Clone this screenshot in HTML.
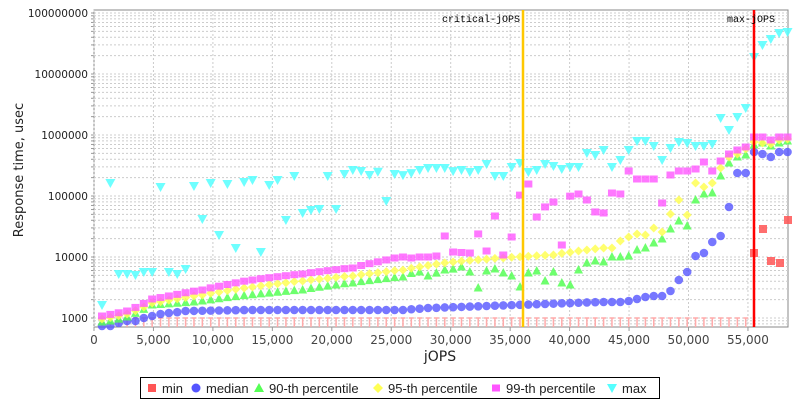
<!DOCTYPE html>
<html><head><meta charset="utf-8"><style>
body{margin:0;background:#fff;}
svg{display:block;font-family:"Liberation Sans",sans-serif;}
</style></head><body>
<svg id="s" width="800" height="400" xmlns="http://www.w3.org/2000/svg"></svg>
<script>
const s=document.getElementById('s');
let h='';
const L=94,R=788,T=10,B=327;
const X=v=>94+v*0.01189;
const Y=v=>318-61*(Math.log10(v)-3);
h+=`<rect x="${L}" y="${T}" width="${R-L}" height="${B-T}" fill="#fff" stroke="#888"/>`;
for(let d=3;d<=8;d++){for(let m=1;m<=9;m++){const v=m*Math.pow(10,d);const y=Y(v);if(y<T||y>B)continue;
h+=`<line x1="${L}" x2="${R}" y1="${y}" y2="${y}" stroke="#ccc" stroke-dasharray="2,2" stroke-width="1"/>`;
h+=`<line x1="${L-3}" x2="${L}" y1="${y}" y2="${y}" stroke="#999"/>`;}}
for(let m=7;m<=9;m++){const y=Y(m*100);if(y<=B)h+=`<line x1="${L}" x2="${R}" y1="${y}" y2="${y}" stroke="#ccc" stroke-dasharray="2,2"/>`;}
const labs=['1000','10000','100000','1000000','10000000','100000000'];
labs.forEach((t,i)=>{h+=`<text x="${L-6}" y="${Y(Math.pow(10,i+3))+4}" font-size="10.5" font-family="DejaVu Sans,sans-serif" text-anchor="end" fill="#222">${t}</text>`;});
for(let k=0;k<=55000;k+=5000){const x=X(k);
h+=`<line x1="${x}" x2="${x}" y1="${T}" y2="${B}" stroke="#ccc" stroke-dasharray="2,2"/>`;
h+=`<line x1="${x}" x2="${x}" y1="${B}" y2="${B+4}" stroke="#999"/>`;
h+=`<text x="${x}" y="${B+17}" font-size="12" font-family="DejaVu Sans,sans-serif" text-anchor="middle" fill="#444">${k.toLocaleString('en-US')}</text>`;}
h+=`<text x="440" y="361" font-size="14" font-family="DejaVu Sans,sans-serif" text-anchor="middle" fill="#222">jOPS</text>`;
h+=`<text transform="translate(23,170) rotate(-90)" font-size="13" font-family="DejaVu Sans,sans-serif" text-anchor="middle" fill="#222">Response time, usec</text>`;
const xs=[];for(let i=0;i<83;i++)xs.push(102+8.36*i);
function interp(a,x){if(x<=a[0][0])return a[0][1];for(let i=1;i<a.length;i++){if(x<=a[i][0]){const[x0,y0]=a[i-1],[x1,y1]=a[i];return y0+(y1-y0)*(x-x0)/(x1-x0);}}return a[a.length-1][1];}
const P=a=>{const o=[];for(let i=0;i<a.length;i+=2)o.push([a[i],a[i+1]]);return o;};
const med=P([102,326,111,326,119,323,128,321,136,321,144,318,153,316,162,314,170,313,187,311,250,310,400,310,430,308,600,302,610,302,618,302,627,301,635,299,643,297,652,296,660,296,668,291,677,280,686,272,694,256,703,253,712,242,720,236,728,207,737,173,745,173,754,152,763,154,771,157,779,152,788,152]);
const p90=P([102,322,111,321,128,317,153,305,195,302,240,296,300,290,350,283,400,277,407,275,416,272,424,275,432,276,441,270,449,271,458,267,466,272,475,288,483,271,492,269,500,273,508,276,517,287,526,273,534,271,542,281,551,272,559,283,568,285,576,270,584,263,593,261,601,262,610,257,618,257,627,256,635,250,643,248,652,243,660,239,668,229,677,221,686,226,694,200,703,194,712,193,720,176,728,163,737,157,745,155,754,145,763,143,771,146,779,143,788,141]);
const p95=P([102,319,128,314,153,303,200,295,250,287,300,281,350,276,400,270,450,262,500,258,550,255,580,251,602,248,610,248,618,241,627,237,635,234,643,235,652,228,660,232,668,214,677,200,686,215,694,183,703,187,712,183,720,168,728,157,737,154,745,149,754,142,763,143,771,144,779,140,788,139]);
const p99=P([102,316,128,311,153,299,200,290,250,280,300,274,350,268,395,258,403,257,412,258,420,257,428,257,436,256,441,236,449,254,457,252,466,253,474,219,483,251,491,216,500,255,508,237,516,204,525,184,533,217,541,211,550,202,558,245,566,198,575,194,583,200,591,211,600,213,608,193,618,194,627,171,635,179,644,179,653,179,661,203,670,175,678,171,686,171,694,169,703,162,712,171,720,161,729,154,737,150,746,147,754,137,763,137,771,140,780,137,788,137]);
const mx=P([102,305,111,183,119,274,128,274,136,275,144,272,153,272,162,187,170,272,178,274,187,269,195,186,203,219,212,183,221,235,229,184,238,248,246,182,254,180,263,252,272,185,280,180,288,220,297,176,305,213,314,210,322,209,331,176,339,209,348,174,356,170,364,171,373,175,382,169,390,201,398,174,407,176,416,170,424,201,432,168,441,168,449,172,458,170,466,172,475,170,483,164,492,176,500,176,508,167,517,163,526,172,534,170,542,164,551,166,559,169,568,167,576,167,584,153,593,155,602,150,610,167,618,160,627,150,635,141,643,141,652,146,660,160,668,148,677,142,686,143,694,146,703,146,711,144,720,118,728,130,737,117,745,108,754,57,763,45,771,39,779,33,788,32]);
xs.forEach(x=>{if(x<750)h+=`<path d="M${x} ${B} V318 M${x-2.5} 318 H${x+2.5}" stroke="#ffaaaa" stroke-width="1.5" fill="none"/>`;});
[[754,253],[763,229],[771,261],[780,263],[788,220]].forEach(([x,y])=>{h+=`<rect x="${x-4}" y="${y-4}" width="8" height="8" fill="#f55" opacity="0.85"/>`;});
const pick=(a,x)=>{let b=a[0];a.forEach(p=>{if(Math.abs(p[0]-x)<Math.abs(b[0]-x))b=p;});return Math.abs(b[0]-x)<4?b[1]:interp(a,x);};
xs.forEach(x=>{const y=pick(med,x);h+=`<circle cx="${x}" cy="${y}" r="4.3" fill="#5555ff" opacity="0.8"/>`;});
xs.forEach(x=>{const y=pick(p90,x);h+=`<path d="M${x} ${y-5} L${x+4.5} ${y+3.5} L${x-4.5} ${y+3.5}Z" fill="#55ff55" opacity="0.85"/>`;});
xs.forEach(x=>{const y=pick(p95,x);h+=`<path d="M${x} ${y-4.5} L${x+4.5} ${y} L${x} ${y+4.5} L${x-4.5} ${y}Z" fill="#ffff55" opacity="0.85"/>`;});
xs.forEach(x=>{const y=pick(p99,x);h+=`<rect x="${x-4}" y="${y-3.5}" width="8" height="7" fill="#ff55ff" opacity="0.8"/>`;});
xs.forEach(x=>{const y=pick(mx,x);h+=`<path d="M${x-5} ${y-4} L${x+5} ${y-4} L${x} ${y+5}Z" fill="#55ffff" opacity="0.85"/>`;});
h+=`<line x1="523" x2="523" y1="${T}" y2="${B}" stroke="#ffc800" stroke-width="2.5"/>`;
h+=`<line x1="754" x2="754" y1="${T}" y2="${B}" stroke="#ff0000" stroke-width="2.5"/>`;
h+=`<text x="520" y="22" font-size="10" text-anchor="end" font-family="Liberation Mono,monospace" fill="#000">critical-jOPS</text>`;
h+=`<text x="775" y="22" font-size="10" text-anchor="end" font-family="Liberation Mono,monospace" fill="#000">max-jOPS</text>`;
h+=`<rect x="140.5" y="377.5" width="519" height="21" fill="#fff" stroke="#000"/>`;
const ly=388;
h+=`<rect x="148" y="${ly-4}" width="8" height="8" fill="#f55"/><text x="162" y="${ly+5}" font-size="13" fill="#222">min</text>`;
h+=`<circle cx="196" cy="${ly}" r="4.5" fill="#5555ff"/><text x="206" y="${ly+5}" font-size="13" fill="#222">median</text>`;
h+=`<path d="M259 ${ly-5} L264 ${ly+4} L254 ${ly+4}Z" fill="#55ff55"/><text x="269" y="${ly+5}" font-size="13" fill="#222">90-th percentile</text>`;
h+=`<path d="M378 ${ly-5} L383 ${ly} L378 ${ly+5} L373 ${ly}Z" fill="#ffff55"/><text x="388" y="${ly+5}" font-size="13" fill="#222">95-th percentile</text>`;
h+=`<rect x="492" y="${ly-3.5}" width="8" height="7" fill="#ff55ff"/><text x="506" y="${ly+5}" font-size="13" fill="#222">99-th percentile</text>`;
h+=`<path d="M607 ${ly-4} L617 ${ly-4} L612 ${ly+5}Z" fill="#55ffff"/><text x="622" y="${ly+5}" font-size="13" fill="#222">max</text>`;
s.innerHTML=h;
</script>
</body></html>
